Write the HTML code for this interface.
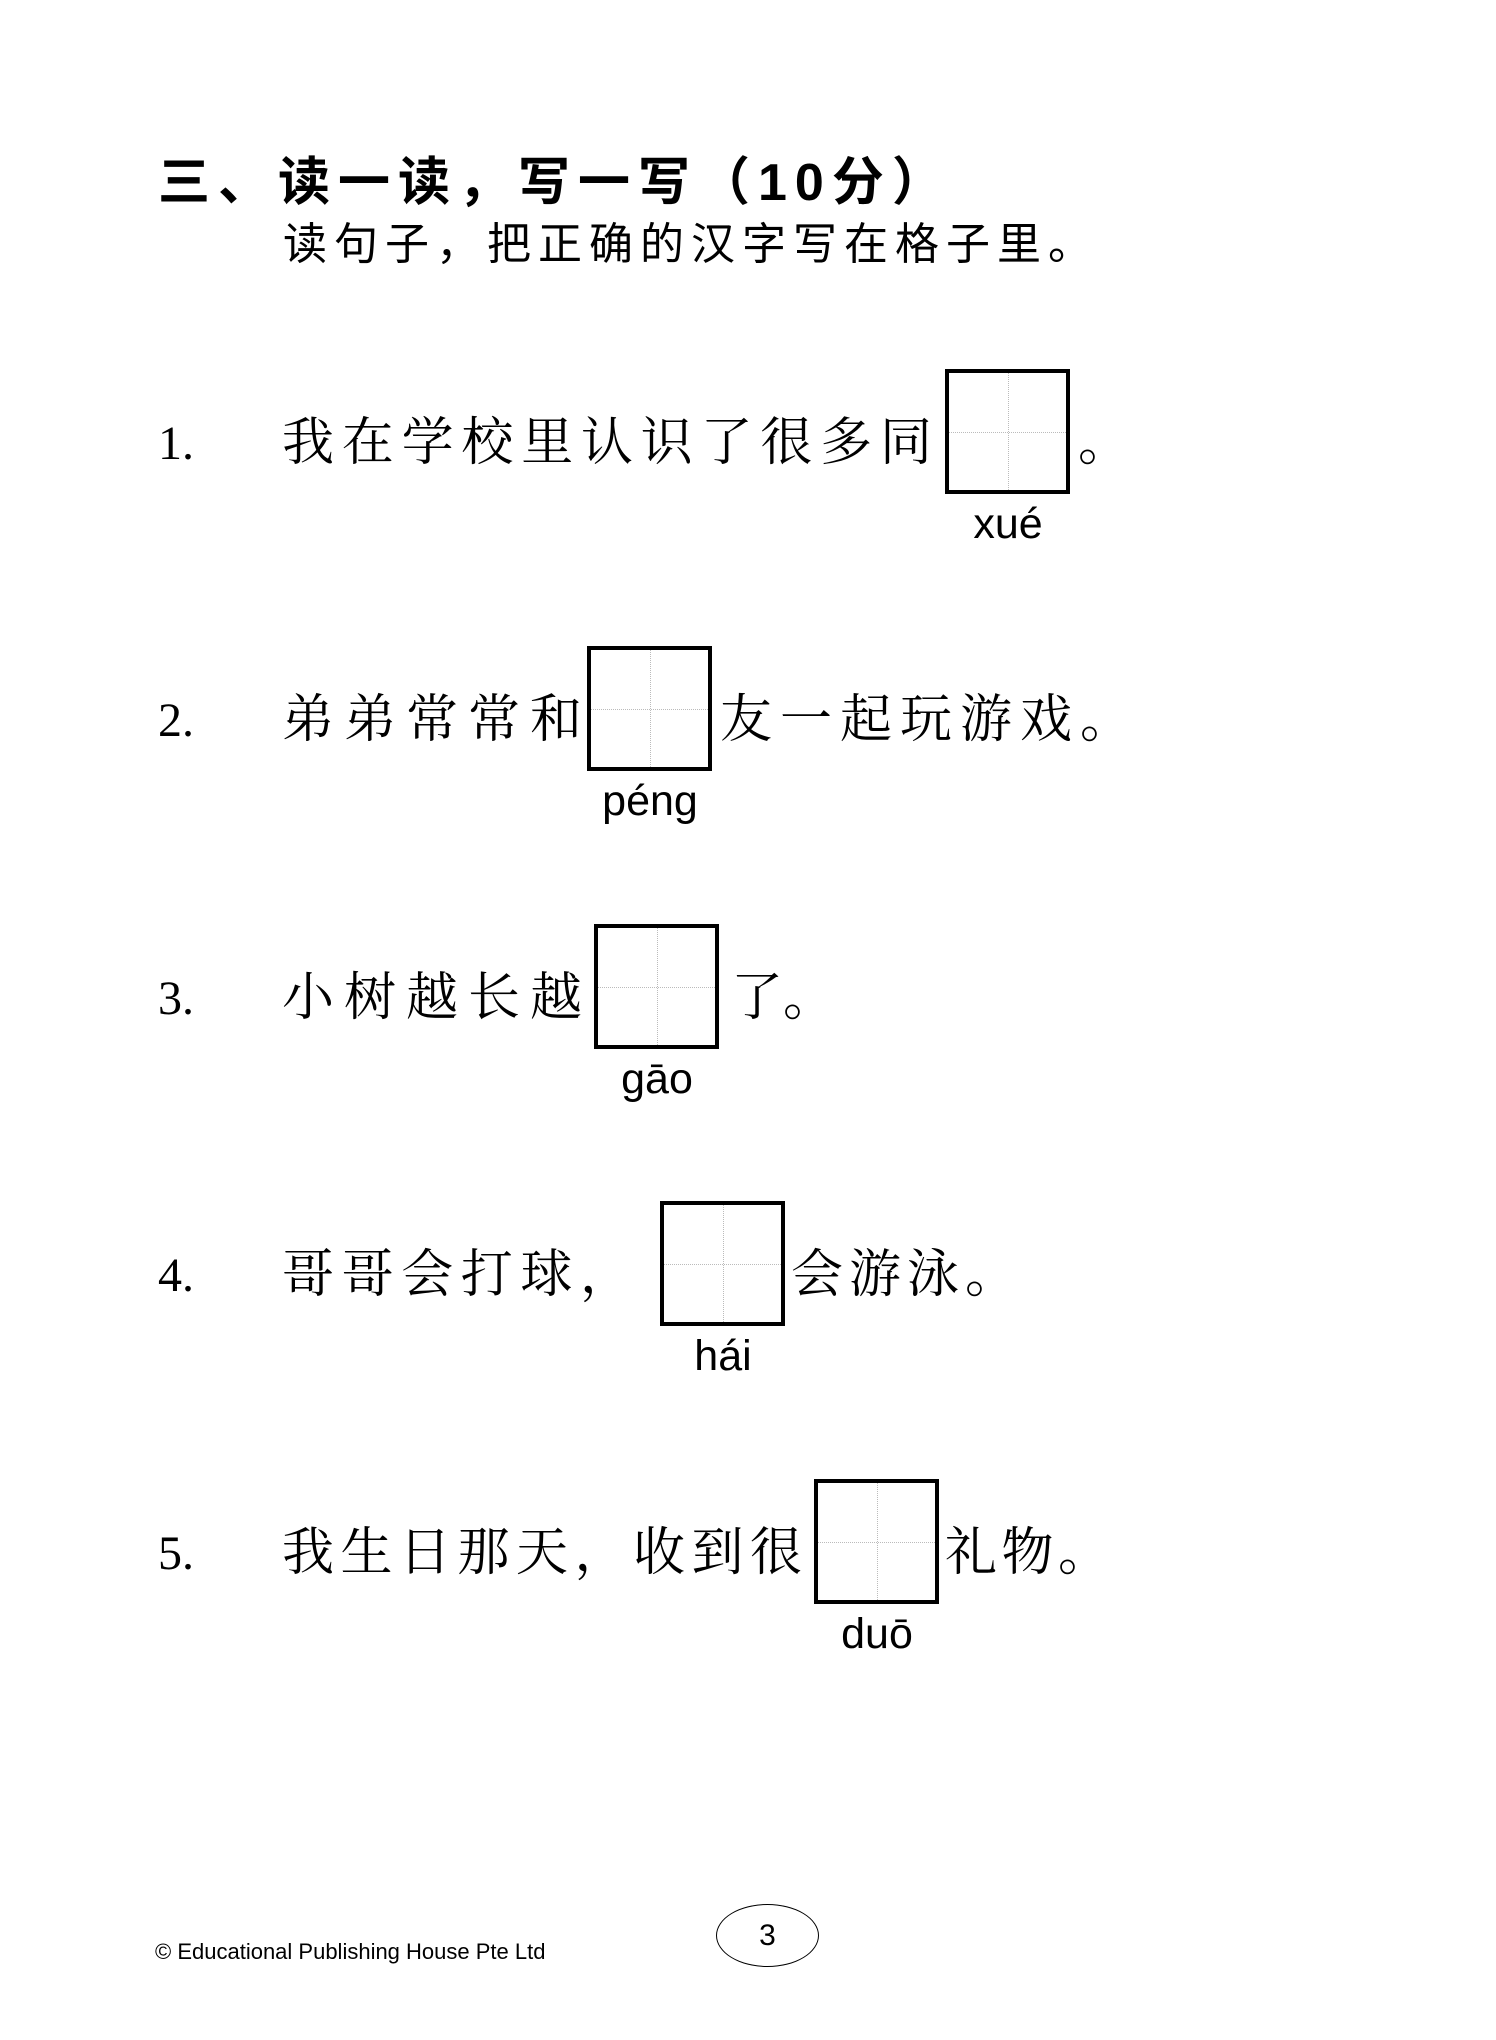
<!DOCTYPE html>
<html><head><meta charset="utf-8"><style>
body{margin:0;background:#fff;}
#p{position:relative;width:1496px;height:2040px;overflow:hidden;background:#fff;}
.a{position:absolute;white-space:nowrap;}
.t{font-family:"Liberation Sans","Noto Sans CJK SC",sans-serif;font-weight:bold;font-size:52px;letter-spacing:8px;line-height:60px;}
.s{font-family:"Liberation Sans","Noto Sans CJK SC",sans-serif;font-size:44px;letter-spacing:7px;line-height:50px;}
.c{font-family:"Liberation Serif","Noto Serif CJK SC",serif;font-size:52px;line-height:60px;text-align:justify;text-align-last:justify;}
.n{font-family:"Liberation Serif",serif;font-size:48px;line-height:60px;}
.py{font-family:"Liberation Sans",sans-serif;font-size:43px;line-height:43px;text-align:center;width:160px;}
.b{position:absolute;width:117px;height:117px;border:4px solid #000;}
.b:before{content:"";position:absolute;left:0;right:0;top:50%;border-top:1px dotted #bbb;}
.b:after{content:"";position:absolute;top:0;bottom:0;left:50%;border-left:1px dotted #bbb;}
</style></head><body><div id="p">
<div class="a t" style="left:158px;top:153px;">三、读一读，写一写（10分）</div>
<div class="a s" style="left:283px;top:220px;">读句子，把正确的汉字写在格子里。</div>

<!-- 1 -->
<div class="a n" style="left:158px;top:414px;">1.</div>
<div class="a c" style="left:282px;top:414px;width:650px;">我在学校里认识了很多同</div>
<div class="b" style="left:945px;top:369px;"></div>
<div class="a c" style="left:1078px;top:414px;">。</div>
<div class="a py" style="left:928px;top:503px;">xué</div>

<!-- 2 -->
<div class="a n" style="left:158px;top:691px;">2.</div>
<div class="a c" style="left:282px;top:691px;width:300px;">弟弟常常和</div>
<div class="b" style="left:587px;top:646px;"></div>
<div class="a c" style="left:720px;top:691px;width:412px;">友一起玩游戏。</div>
<div class="a py" style="left:570px;top:780px;">péng</div>

<!-- 3 -->
<div class="a n" style="left:158px;top:969px;">3.</div>
<div class="a c" style="left:731px;top:969px;width:104px;">了。</div>
<div class="a c" style="left:282px;top:969px;width:300px;">小树越长越</div>
<div class="b" style="left:594px;top:924px;"></div>
<div class="a py" style="left:577px;top:1058px;">gāo</div>

<!-- 4 -->
<div class="a n" style="left:158px;top:1246px;">4.</div>
<div class="a c" style="left:282px;top:1246px;width:350px;">哥哥会打球，</div>
<div class="b" style="left:660px;top:1201px;"></div>
<div class="a c" style="left:791px;top:1246px;width:226px;">会游泳。</div>
<div class="a py" style="left:643px;top:1335px;">hái</div>

<!-- 5 -->
<div class="a n" style="left:158px;top:1524px;">5.</div>
<div class="a c" style="left:282px;top:1524px;width:520px;">我生日那天，收到很</div>
<div class="b" style="left:814px;top:1479px;"></div>
<div class="a c" style="left:945px;top:1524px;width:165px;">礼物。</div>
<div class="a py" style="left:797px;top:1613px;">duō</div>

<div class="a" style="left:155px;top:1940px;font-family:'Liberation Sans',sans-serif;font-size:22px;line-height:24px;">© Educational Publishing House Pte Ltd</div>
<div class="a" style="left:716px;top:1904px;width:101px;height:61px;border:1.5px solid #000;border-radius:50%;text-align:center;line-height:61px;font-family:'Liberation Sans',sans-serif;font-size:30px;">3</div>
</div></body></html>
